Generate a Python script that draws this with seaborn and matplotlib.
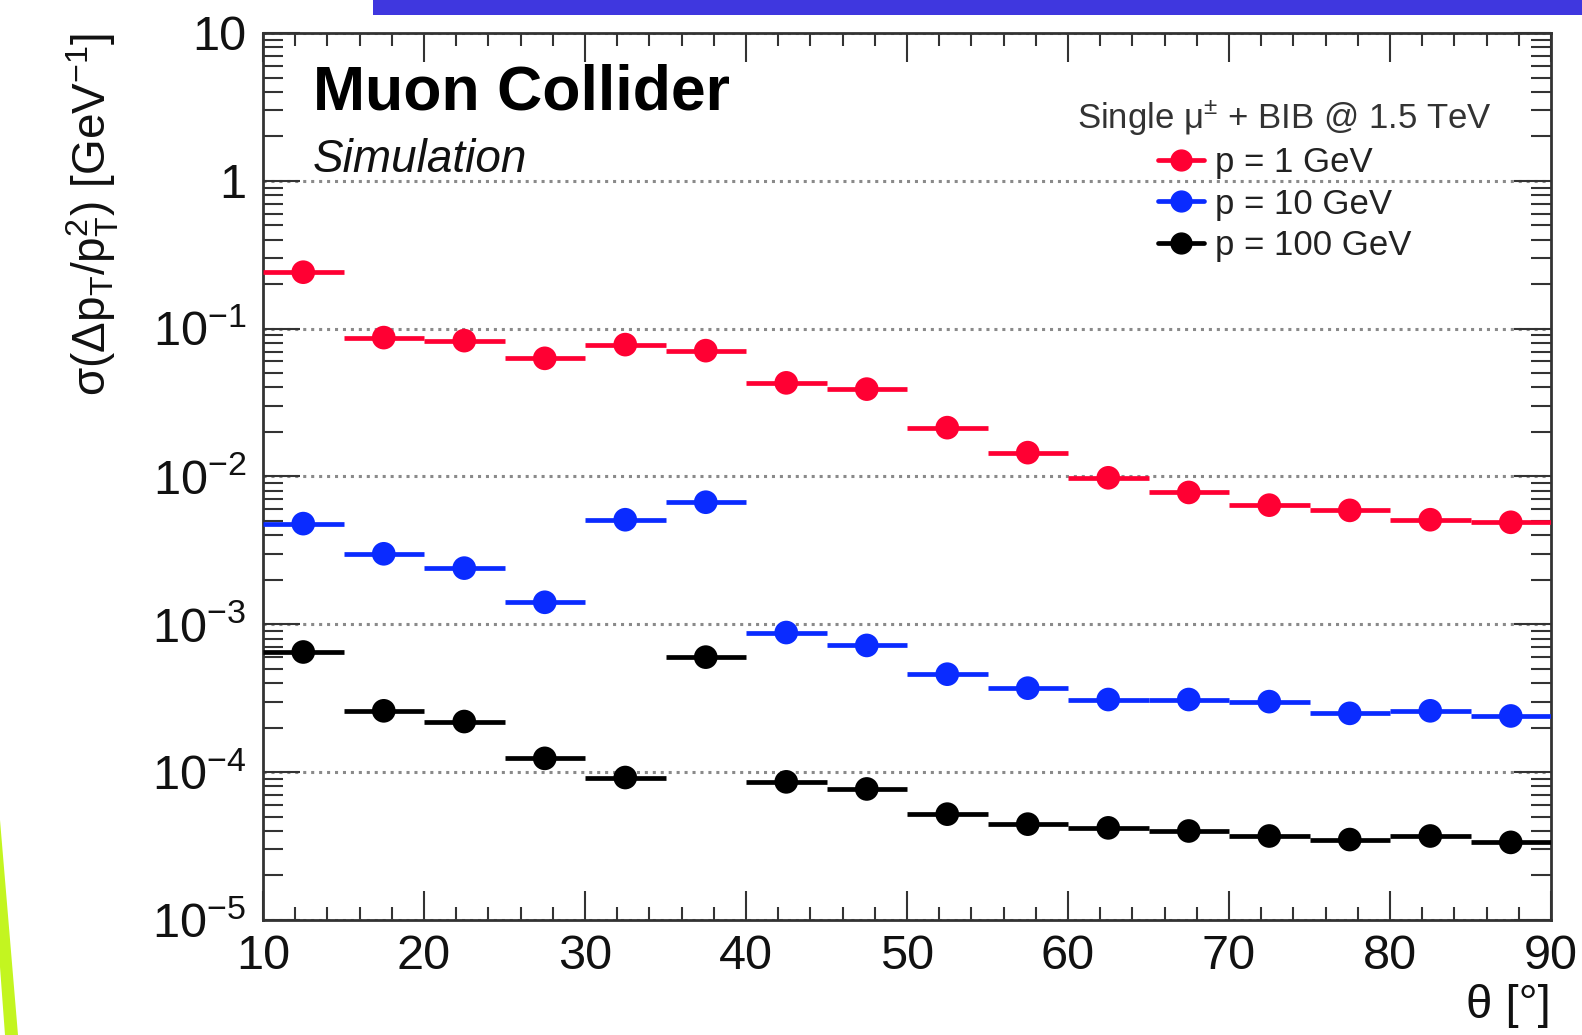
import numpy as np
import pandas as pd
import matplotlib
matplotlib.use('Agg')
import matplotlib.pyplot as plt
import seaborn as sns
from matplotlib.lines import Line2D
from matplotlib.patches import Rectangle, Polygon
from matplotlib.ticker import LogLocator, MultipleLocator, NullFormatter, FuncFormatter

# theta bins: 5 degree wide, centred values
theta_centers = [12.5, 17.5, 22.5, 27.5, 32.5, 37.5, 42.5, 47.5,
                 52.5, 57.5, 62.5, 67.5, 72.5, 77.5, 82.5, 87.5]
bin_half_width = 2.5

# sigma(dpT/pT^2) [GeV^-1]
res_p1 = [0.241, 0.087, 0.083, 0.063, 0.078, 0.071, 0.043, 0.039,
          0.0214, 0.0145, 0.0098, 0.0078, 0.0064, 0.0059, 0.0051, 0.0049]
res_p10 = [0.0048, 0.0030, 0.0024, 0.00141, 0.0051, 0.0067, 0.00088, 0.00072,
           0.00046, 0.00037, 0.00031, 0.00031, 0.00030, 0.00025, 0.00026, 0.00024]
res_p100 = [0.00065, 0.00026, 0.00022, 0.000124, 9.2e-5, 0.00060, 8.6e-5, 7.7e-5,
            5.2e-5, 4.45e-5, 4.2e-5, 4.0e-5, 3.7e-5, 3.5e-5, 3.7e-5, 3.35e-5]

labels = ['p = 1 GeV', 'p = 10 GeV', 'p = 100 GeV']
colors = ['#ff0033', '#0a2bff', '#000000']

df = pd.DataFrame({
    'theta': theta_centers * 3,
    'sigma': res_p1 + res_p10 + res_p100,
    'label': [labels[0]] * 16 + [labels[1]] * 16 + [labels[2]] * 16,
})


def root_log_label(val, pos):
    # ROOT style: 10 and 1 written plainly, the rest as powers of ten
    exp = int(round(np.log10(val)))
    if exp == 1:
        return '10'
    if exp == 0:
        return '1'
    return r'$10^{%d}$' % exp


sns.set_theme(style='ticks')
plt.rcParams['font.family'] = ['Liberation Sans', 'DejaVu Sans']
plt.rcParams['mathtext.fontset'] = 'custom'
plt.rcParams['mathtext.rm'] = 'Liberation Sans'
plt.rcParams['mathtext.it'] = 'Liberation Sans:italic'
plt.rcParams['mathtext.bf'] = 'Liberation Sans:bold'

W, H = 1582, 1035
fig = plt.figure(figsize=(W / 100, H / 100), dpi=100)
ax = fig.add_axes([263 / W, 1 - 920 / H, (1551 - 263) / W, 887 / H])

# horizontal bars for the bin widths
for lab, col in zip(labels, colors):
    sub = df[df['label'] == lab]
    ax.errorbar(sub['theta'], sub['sigma'], xerr=bin_half_width, fmt='none',
                ecolor=col, elinewidth=3.4, capsize=0, zorder=3)

sns.scatterplot(data=df, x='theta', y='sigma', hue='label', palette=colors,
                s=290, edgecolor='none', legend=False, ax=ax, zorder=4)

ax.set_yscale('log')
ax.set_xlim(10, 90)
ax.set_ylim(1e-5, 10)

ax.xaxis.set_major_locator(MultipleLocator(10))
ax.xaxis.set_minor_locator(MultipleLocator(2))
ax.yaxis.set_major_locator(LogLocator(base=10, numticks=10))
ax.yaxis.set_major_formatter(FuncFormatter(root_log_label))
ax.yaxis.set_minor_locator(LogLocator(base=10, subs=np.arange(2, 10), numticks=20))
ax.yaxis.set_minor_formatter(NullFormatter())

ax.tick_params(which='both', direction='in', top=True, right=True,
               colors='#333333', labelcolor='#111111', width=1.5, labelsize=35)
ax.tick_params(axis='x', which='major', length=21, pad=10)
ax.tick_params(axis='x', which='minor', length=9.5)
ax.tick_params(axis='y', which='major', length=26.5, pad=12)
ax.tick_params(axis='y', which='minor', length=14.5)

for sp in ax.spines.values():
    sp.set_color('#333333')
    sp.set_linewidth(2)

ax.yaxis.grid(True, which='major', linestyle=(0, (1, 1.6)), color='#8a8a8a', linewidth=2.2)
ax.xaxis.grid(False)

ax.set_xlabel('θ [°]', fontsize=34, loc='right', labelpad=4, color='#111111')
ax.set_ylabel(r'σ(Δp$_{\mathrm{T}}$/p$_{\mathrm{T}}^{2}$) [GeV$^{-1}$]',
              fontsize=33, loc='top', labelpad=22, color='#111111')

ax.text(0.0388, 0.914, 'Muon Collider', transform=ax.transAxes, fontsize=45,
        fontweight='bold', va='baseline', color='#000000')
ax.text(0.0388, 0.843, 'Simulation', transform=ax.transAxes, fontsize=33,
        style='italic', va='baseline', color='#111111')

handles = [Line2D([0], [0], color=c, marker='o', markersize=15, linewidth=3.4)
           for c in colors]
leg = ax.legend(handles, labels, title=r'Single μ$^{\pm}$ + BIB @ 1.5 TeV',
                loc='upper center', bbox_to_anchor=(0.793, 0.946), frameon=False,
                fontsize=25, title_fontsize=25, handlelength=1.35, handletextpad=0.3,
                labelspacing=0.25, borderpad=0, numpoints=1)
leg.get_title().set_color('#333333')
for t in leg.get_texts():
    t.set_color('#222222')

# screenshot decorations around the figure
fig.add_artist(Rectangle((373 / W, 1 - 15 / H), 1 - 373 / W, 15 / H,
                         transform=fig.transFigure, color='#3f37df', lw=0))
green_px = [(0, 820), (18, 1035), (5, 1035), (0, 967)]
fig.add_artist(Polygon([(x / W, 1 - y / H) for x, y in green_px],
                       transform=fig.transFigure, color='#c3f520', lw=0))

fig.savefig('out.png', dpi=100)
